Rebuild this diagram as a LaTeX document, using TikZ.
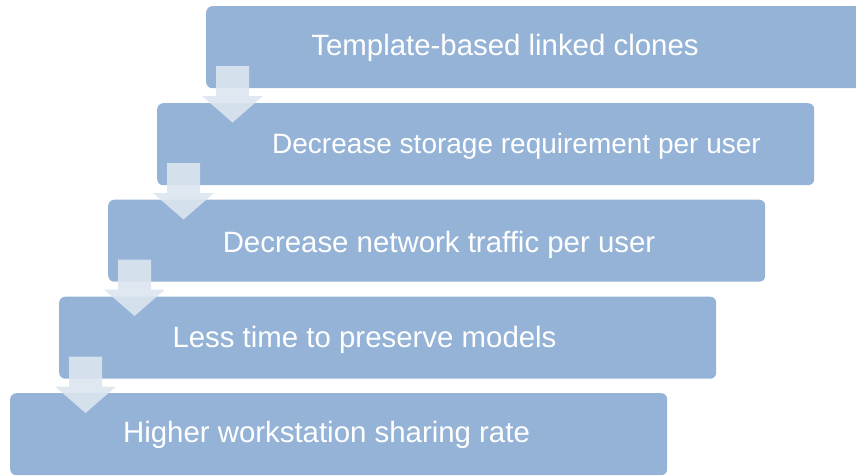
\documentclass[tikz,border=0pt]{standalone}
\usepackage{fontspec}
\setmainfont{Liberation Sans}
\usetikzlibrary{calc}
\definecolor{boxblue}{HTML}{95B3D7}
\definecolor{arrowfill}{HTML}{DCE5F0}
\tikzset{
  stepbox/.style={fill=boxblue, draw=none, rounded corners=6pt, minimum width=657pt, minimum height=82pt, anchor=north west, inner sep=0pt},
  steptext/.style={text=white, anchor=base, font=\fontsize{29.4}{34}\selectfont, inner sep=0pt},
  downarrow/.style={fill=arrowfill, fill opacity=0.9, draw=none}
}
\begin{document}
\begin{tikzpicture}[x=1pt,y=-1pt]
\useasboundingbox (0,0) rectangle (856,475);
\clip (0,0) rectangle (856,475);
\node[stepbox] (b1) at (206,6) {};
\node[stepbox] (b2) at (157,103) {};
\node[stepbox] (b3) at (108,199.5) {};
\node[stepbox] (b4) at (59,296.5) {};
\node[stepbox] (b5) at (10,393) {};
\node[steptext] (t1) at (505,55) {Template-based linked clones};
\node[steptext, font=\fontsize{28}{34}\selectfont] (t2) at (516.5,153) {Decrease storage requirement per user};
\node[steptext] (t3) at (439,252) {Decrease network traffic per user};
\node[steptext] (t4) at (364.5,347) {Less time to preserve models};
\node[steptext] (t5) at (326.5,442) {Higher workstation sharing rate};
\foreach \b in {b1,b2,b3,b4}{
  \fill[downarrow]
    ($(\b.north west)+(10,60)$) -- ($(\b.north west)+(43,60)$) --
    ($(\b.north west)+(43,90)$) -- ($(\b.north west)+(57,90)$) --
    ($(\b.north west)+(26.5,116.5)$) -- ($(\b.north west)+(-4,90)$) --
    ($(\b.north west)+(10,90)$) -- cycle;
}
\end{tikzpicture}
\end{document}
